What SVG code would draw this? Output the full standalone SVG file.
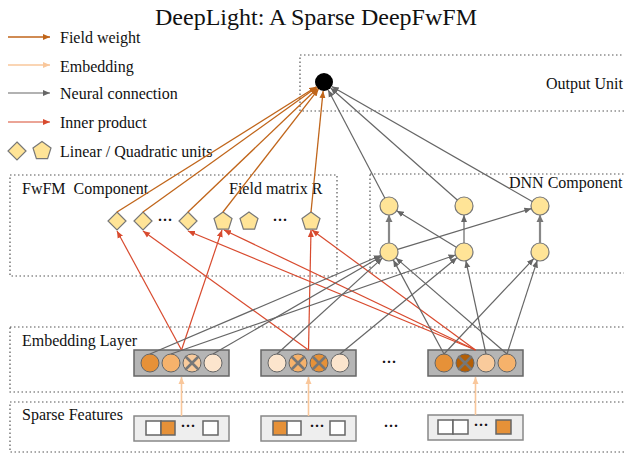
<svg xmlns="http://www.w3.org/2000/svg" width="624" height="456" viewBox="0 0 624 456">
<style>
text{font-family:"Liberation Serif","Times New Roman",serif;fill:#111}
.lbl{font-size:16px;white-space:pre}
.box{fill:none;stroke:#555;stroke-width:1.2;stroke-dasharray:1.5 2.5}
.fw{stroke:#C0651A;stroke-width:1.3;fill:none}
.emb{stroke:#F9C79B;stroke-width:1.6;fill:none}
.nn{stroke:#666;stroke-width:1.2;fill:none}
.nnt{stroke:#888;stroke-width:2.2;fill:none}
.ip{stroke:#D84A2E;stroke-width:1.2;fill:none}
.unit{fill:#FFE497;stroke:#777;stroke-width:1.2}
.blk{fill:#B5B5B5;stroke:#666;stroke-width:1.5}
.sp{fill:#EEEEEE;stroke:#888;stroke-width:1.5}
.sq{stroke:#666;stroke-width:1.5}
.ec{stroke:#666;stroke-width:1}
.x{stroke:#777;stroke-width:2.6;stroke-linecap:round}
.d1{fill:#E69138}.d2{fill:#F6B26B}.d3{fill:#F9CB9C}.d4{fill:#FCE5CD}.d5{fill:#B45F06}
.dots{font-size:15px;font-weight:bold}
</style>
<defs>
<marker id="mfw" markerWidth="8" markerHeight="8" refX="7" refY="4" orient="auto" markerUnits="userSpaceOnUse"><path d="M0,1 L7,4 L0,7 z" fill="#C0651A"/></marker>
<marker id="memb" markerWidth="8" markerHeight="8" refX="7" refY="4" orient="auto" markerUnits="userSpaceOnUse"><path d="M0,1 L7,4 L0,7 z" fill="#F9C79B"/></marker>
<marker id="mnn" markerWidth="8" markerHeight="8" refX="7" refY="4" orient="auto" markerUnits="userSpaceOnUse"><path d="M0,1 L7,4 L0,7 z" fill="#666"/></marker>
<marker id="mnnt" markerWidth="9" markerHeight="9" refX="7" refY="4.5" orient="auto" markerUnits="userSpaceOnUse"><path d="M0,1 L7,4.5 L0,8 z" fill="#777"/></marker>
<marker id="mip" markerWidth="8" markerHeight="8" refX="7" refY="4" orient="auto" markerUnits="userSpaceOnUse"><path d="M0,1 L7,4 L0,7 z" fill="#D84A2E"/></marker>
</defs>
<rect width="624" height="456" fill="#fff"/>
<text x="316" y="25" text-anchor="middle" font-size="24">DeepLight: A Sparse DeepFwFM</text>

<g id="legend">
<line class="fw" x1="8" y1="37" x2="50" y2="37" marker-end="url(#mfw)"/>
<text class="lbl" x="60" y="43">Field weight</text>
<line class="emb" x1="8" y1="65" x2="50" y2="65" marker-end="url(#memb)"/>
<text class="lbl" x="60" y="72">Embedding</text>
<line class="nn" x1="8" y1="93" x2="50" y2="93" marker-end="url(#mnn)"/>
<text class="lbl" x="60" y="99">Neural connection</text>
<line class="ip" x1="8" y1="122" x2="50" y2="122" marker-end="url(#mip)"/>
<text class="lbl" x="60" y="128">Inner product</text>
<polygon class="unit" points="17,142 26,151 17,160 8,151"/>
<polygon class="unit" points="42,141.5 51,148 47.6,158.7 36.4,158.7 33,148"/>
<text class="lbl" x="60" y="157">Linear / Quadratic units</text>
</g>

<g id="regions">
<rect class="box" x="300" y="55" width="340" height="56"/>
<text class="lbl" x="546" y="89">Output Unit</text>
<rect class="box" x="10" y="175" width="327" height="101"/>
<text class="lbl" x="22" y="194">FwFM  Component</text>
<text class="lbl" x="229" y="194">Field matrix R</text>
<rect class="box" x="370" y="174" width="270" height="99"/>
<text class="lbl" x="509" y="188">DNN Component</text>
<rect class="box" x="10" y="327" width="630" height="65"/>
<text class="lbl" x="22" y="346">Embedding Layer</text>
<rect class="box" x="10" y="402" width="630" height="50"/>
<text class="lbl" x="22" y="420">Sparse Features</text>
</g>

<g id="output"><circle cx="324" cy="82" r="9" fill="#000"/></g>

<g id="fwfm-units">
<polygon id="lin1" class="unit" points="117,212 126,221 117,230 108,221"/>
<polygon id="lin2" class="unit" points="143,212 152,221 143,230 134,221"/>
<text class="dots" x="165" y="225" text-anchor="middle">···</text>
<polygon id="lin3" class="unit" points="188,212 197,221 188,230 179,221"/>
<polygon id="quad1" class="unit" points="223,212 232,218.5 228.6,229.2 217.4,229.2 214,218.5"/>
<polygon id="quad2" class="unit" points="249,212 258,218.5 254.6,229.2 243.4,229.2 240,218.5"/>
<text class="dots" x="280" y="225" text-anchor="middle">···</text>
<polygon id="quad3" class="unit" points="311,212 320,218.5 316.6,229.2 305.4,229.2 302,218.5"/>
</g>

<g id="dnn">
<circle id="t1" class="unit" cx="389" cy="206" r="9"/>
<circle id="t2" class="unit" cx="464" cy="206" r="9"/>
<circle id="t3" class="unit" cx="540" cy="206" r="9"/>
<circle id="b1" class="unit" cx="389" cy="252" r="9"/>
<circle id="b2" class="unit" cx="464" cy="252" r="9"/>
<circle id="b3" class="unit" cx="540" cy="252" r="9"/>
</g>

<g id="embedding-layer">
<g id="emb1">
<rect class="blk" x="134" y="350" width="95" height="26"/>
<circle class="ec d1" cx="150" cy="363" r="9"/>
<circle class="ec d2" cx="171" cy="363" r="9"/>
<circle class="ec d3" cx="192" cy="363" r="9"/>
<path class="x" d="M186,357 L198,369 M198,357 L186,369"/>
<circle class="ec d4" cx="213" cy="363" r="9"/>
</g>
<g id="emb2">
<rect class="blk" x="261" y="350" width="95" height="26"/>
<circle class="ec d4" cx="277" cy="363" r="9"/>
<circle class="ec d2" cx="298" cy="363" r="9"/>
<path class="x" d="M292,357 L304,369 M304,357 L292,369"/>
<circle class="ec d1" cx="319" cy="363" r="9"/>
<path class="x" d="M313,357 L325,369 M325,357 L313,369"/>
<circle class="ec d4" cx="340" cy="363" r="9"/>
</g>
<text class="dots" x="389" y="367" text-anchor="middle">···</text>
<g id="emb3">
<rect class="blk" x="428" y="350" width="95" height="26"/>
<circle class="ec d1" cx="444" cy="363" r="9"/>
<circle class="ec d5" cx="465" cy="363" r="9"/>
<path class="x" d="M459,357 L471,369 M471,357 L459,369"/>
<circle class="ec d3" cx="486" cy="363" r="9"/>
<circle class="ec d2" cx="507" cy="363" r="9"/>
</g>
</g>

<g id="sparse-features">
<g id="sp1">
<rect class="sp" x="134" y="416" width="95" height="25"/>
<rect class="sq" x="146" y="421" width="15" height="14" fill="#fff"/>
<rect class="sq" x="161" y="421" width="14" height="14" fill="#E69138"/>
<text class="dots" x="188" y="431" text-anchor="middle">···</text>
<rect class="sq" x="203" y="421" width="15" height="14" fill="#fff"/>
</g>
<g id="sp2">
<rect class="sp" x="261" y="416" width="95" height="25"/>
<rect class="sq" x="273" y="421" width="14" height="14" fill="#E69138"/>
<rect class="sq" x="287" y="421" width="14" height="14" fill="#fff"/>
<text class="dots" x="317" y="431" text-anchor="middle">···</text>
<rect class="sq" x="330" y="421" width="15" height="14" fill="#fff"/>
</g>
<text class="dots" x="391" y="431" text-anchor="middle">···</text>
<g id="sp3">
<rect class="sp" x="428" y="415" width="95" height="25"/>
<rect class="sq" x="438" y="420" width="15" height="14" fill="#fff"/>
<rect class="sq" x="453" y="420" width="15" height="14" fill="#fff"/>
<text class="dots" x="481" y="430" text-anchor="middle">···</text>
<rect class="sq" x="496" y="420" width="15" height="14" fill="#E69138"/>
</g>
</g>

<g id="connectors">
<line class="emb" x1="181.5" y1="416" x2="181.5" y2="377" marker-end="url(#memb)"/>
<line class="emb" x1="308.5" y1="416" x2="308.5" y2="377" marker-end="url(#memb)"/>
<line class="emb" x1="475.5" y1="415" x2="475.5" y2="377" marker-end="url(#memb)"/>
<line class="fw" x1="117" y1="212" x2="316.4" y2="86.8" marker-end="url(#mfw)"/>
<line class="fw" x1="143" y1="212" x2="316.7" y2="87.2" marker-end="url(#mfw)"/>
<line class="fw" x1="188" y1="212" x2="317.5" y2="88.2" marker-end="url(#mfw)"/>
<line class="fw" x1="223" y1="212" x2="318.5" y2="89.1" marker-end="url(#mfw)"/>
<line class="fw" x1="311" y1="212" x2="323.1" y2="91" marker-end="url(#mfw)"/>
<line class="ip" x1="181.5" y1="350" x2="117" y2="231" marker-end="url(#mip)"/>
<line class="ip" x1="181.5" y1="350" x2="222" y2="230" marker-end="url(#mip)"/>
<line class="ip" x1="308.5" y1="350" x2="143" y2="231" marker-end="url(#mip)"/>
<line class="ip" x1="308.5" y1="350" x2="311" y2="230" marker-end="url(#mip)"/>
<line class="ip" x1="475.5" y1="350" x2="188" y2="231" marker-end="url(#mip)"/>
<line class="ip" x1="475.5" y1="350" x2="224" y2="230" marker-end="url(#mip)"/>
<line class="ip" x1="475.5" y1="350" x2="312" y2="230" marker-end="url(#mip)"/>
<line class="nn" x1="150" y1="354" x2="380.7" y2="255.5" marker-end="url(#mnn)"/>
<line class="nn" x1="171" y1="354" x2="455.5" y2="255" marker-end="url(#mnn)"/>
<line class="nn" x1="213" y1="354" x2="381.2" y2="256.5" marker-end="url(#mnn)"/>
<line class="nn" x1="277" y1="354" x2="382.3" y2="258.1" marker-end="url(#mnn)"/>
<line class="nn" x1="340" y1="354" x2="457" y2="257.7" marker-end="url(#mnn)"/>
<line class="nn" x1="444" y1="354" x2="393.3" y2="259.9" marker-end="url(#mnn)"/>
<line class="nn" x1="444" y1="354" x2="533.8" y2="258.6" marker-end="url(#mnn)"/>
<line class="nn" x1="486" y1="354" x2="465.9" y2="260.8" marker-end="url(#mnn)"/>
<line class="nn" x1="507" y1="354" x2="395.8" y2="257.9" marker-end="url(#mnn)"/>
<line class="nn" x1="507" y1="354" x2="537.2" y2="260.6" marker-end="url(#mnn)"/>
<line class="nnt" x1="389" y1="243" x2="389" y2="215" marker-end="url(#mnnt)"/>
<line class="nn" x1="464" y1="243" x2="464" y2="215" marker-end="url(#mnn)"/>
<line class="nnt" x1="540" y1="243" x2="540" y2="215" marker-end="url(#mnnt)"/>
<line class="nn" x1="456.3" y1="247.3" x2="396.7" y2="210.7" marker-end="url(#mnn)"/>
<line class="nn" x1="397.6" y1="249.4" x2="531.4" y2="208.6" marker-end="url(#mnn)"/>
<line class="nn" x1="384.8" y1="198" x2="328.2" y2="90" marker-end="url(#mnn)"/>
<line class="nn" x1="457.3" y1="200" x2="330.7" y2="88" marker-end="url(#mnn)"/>
<line class="nn" x1="532.2" y1="201.5" x2="331.8" y2="86.5" marker-end="url(#mnn)"/>
</g>
</svg>
